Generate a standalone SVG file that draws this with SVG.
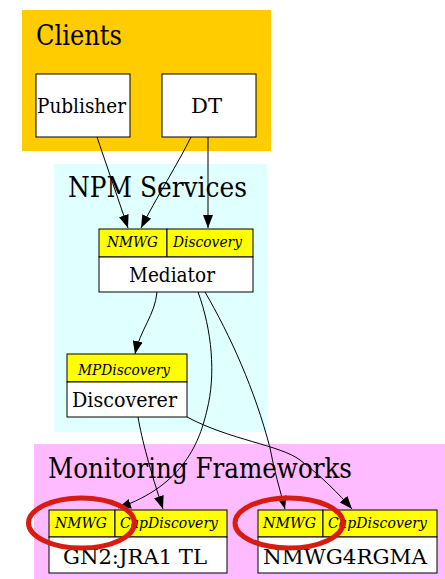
<svg xmlns="http://www.w3.org/2000/svg" width="445" height="579" viewBox="0 0 445 579">
<defs>
<marker id="arr" viewBox="0 0 13 10" refX="13" refY="5" markerWidth="13" markerHeight="10" markerUnits="userSpaceOnUse" orient="auto">
<path d="M0,0 L13,5 L0,10 Z" fill="#000"/>
</marker>
</defs>
<style>
text{font-family:'DejaVu Serif','Liberation Serif',serif;fill:#000}
.cl{font-size:27px}
.lb{font-size:21px}
.pt{font-size:14px;font-style:italic}
.box{fill:#fff;stroke:#000;stroke-width:1}
.port{fill:#ffff00;stroke:#000;stroke-width:1}
.e{fill:none;stroke:#000;stroke-width:1;marker-end:url(#arr)}
.ring{fill:none;stroke:#d81c12;stroke-width:5}
</style>
<rect width="445" height="579" fill="#fff"/>
<g id="cluster-clients">
<rect x="22" y="10" width="249" height="141" fill="#ffcc00"/>
<text class="cl" x="36" y="45" textLength="86" lengthAdjust="spacingAndGlyphs">Clients</text>
</g>
<g id="cluster-npm">
<rect x="54" y="164" width="213" height="268" fill="#e0ffff"/>
<text class="cl" x="68" y="197" textLength="179" lengthAdjust="spacingAndGlyphs">NPM Services</text>
</g>
<g id="cluster-mon">
<rect x="34" y="444" width="411" height="135" fill="#ffbbff"/>
<text class="cl" x="48" y="478" textLength="304" lengthAdjust="spacingAndGlyphs">Monitoring Frameworks</text>
</g>
<g id="Publisher">
<rect class="box" x="36" y="74" width="94" height="63"/>
<text class="lb" x="37" y="113" textLength="89" lengthAdjust="spacingAndGlyphs">Publisher</text>
</g>
<g id="DT">
<rect class="box" x="162" y="74" width="94" height="63"/>
<text class="lb" x="191" y="113" textLength="31" lengthAdjust="spacingAndGlyphs">DT</text>
</g>
<g id="Mediator">
<rect class="port" x="99" y="229" width="68" height="28"/>
<rect class="port" x="167" y="229" width="86" height="28"/>
<rect class="box" x="99" y="257" width="154" height="35"/>
<text class="pt" x="107" y="247" textLength="51" lengthAdjust="spacingAndGlyphs">NMWG</text>
<text class="pt" x="173" y="247" textLength="69" lengthAdjust="spacingAndGlyphs">Discovery</text>
<text class="lb" x="129" y="282" textLength="86" lengthAdjust="spacingAndGlyphs">Mediator</text>
</g>
<g id="Discoverer">
<rect class="port" x="67" y="354" width="120" height="28"/>
<rect class="box" x="67" y="382" width="120" height="35"/>
<text class="pt" x="78" y="375" textLength="92" lengthAdjust="spacingAndGlyphs">MPDiscovery</text>
<text class="lb" x="72" y="407" textLength="105" lengthAdjust="spacingAndGlyphs">Discoverer</text>
</g>
<g id="GN2JRA1TL">
<rect class="port" x="49" y="510" width="66" height="27"/>
<rect class="port" x="115" y="510" width="112" height="27"/>
<rect class="box" x="49" y="537" width="178" height="36"/>
<text class="pt" x="55" y="528" textLength="52" lengthAdjust="spacingAndGlyphs">NMWG</text>
<text class="pt" x="120" y="528" textLength="98" lengthAdjust="spacing">CapDiscovery</text>
<text class="lb" x="63" y="564" textLength="144" lengthAdjust="spacingAndGlyphs">GN2:JRA1 TL</text>
</g>
<g id="NMWG4RGMA">
<rect class="port" x="258" y="510" width="65" height="27"/>
<rect class="port" x="323" y="510" width="114" height="27"/>
<rect class="box" x="258" y="537" width="179" height="36"/>
<text class="pt" x="263" y="528" textLength="53" lengthAdjust="spacingAndGlyphs">NMWG</text>
<text class="pt" x="328" y="528" textLength="99" lengthAdjust="spacing">CapDiscovery</text>
<text class="lb" x="263" y="564" textLength="164" lengthAdjust="spacingAndGlyphs">NMWG4RGMA</text>
</g>
<g id="connectors">
<path class="e" d="M97,137 L128,228"/>
<path class="e" d="M191,137 C180,160 155,200 141,228"/>
<path class="e" d="M208,137 L208,228"/>
<path class="e" d="M157,292 C155,315 140,330 135,354"/>
<path class="e" d="M198,292 C212,330 216,375 207,410 C200,440 185,485 118,508"/>
<path class="e" d="M205,292 C230,335 255,390 270,448 C274,470 280,490 285,509"/>
<path class="e" d="M138,417 C142,440 150,470 163,509"/>
<path class="e" d="M187,417 C230,440 280,445 300,460 C320,475 340,495 352,509"/>
</g>
<g id="highlights">
<ellipse class="ring" cx="81.5" cy="523" rx="53" ry="25"/>
<ellipse class="ring" cx="289" cy="523" rx="54" ry="25"/>
</g>
</svg>
